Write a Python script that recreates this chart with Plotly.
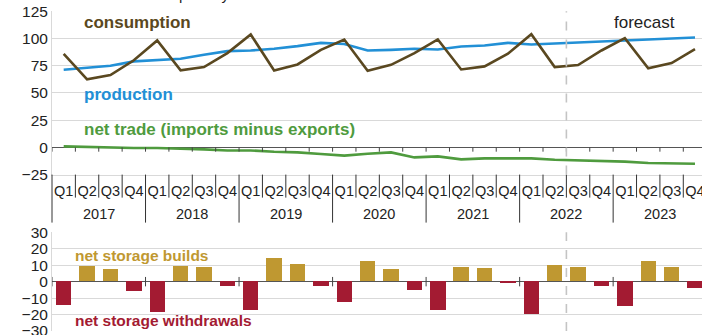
import plotly.graph_objects as go

# Quarterly U.S. natural gas balance, billion cubic feet per day
years = ["2017", "2018", "2019", "2020", "2021", "2022", "2023"]
quarters = ["Q1", "Q2", "Q3", "Q4"]

consumption = [86.0, 62.5, 66.4, 80.0, 98.2, 70.7, 73.8, 86.6, 103.7, 70.7, 76.2, 89.6,
               99.1, 70.4, 75.8, 86.6, 99.1, 71.6, 74.4, 86.0, 103.9, 73.8, 75.6, 89.0,
               100.3, 72.6, 77.4, 90.2]
production = [71.3, 73.2, 75.0, 79.0, 79.9, 81.4, 85.1, 88.4, 89.0, 90.6, 93.0, 96.0,
              95.0, 89.0, 89.6, 90.6, 89.9, 92.7, 93.6, 96.0, 94.5, 95.4, 96.3, 97.3,
              98.2, 99.1, 100.0, 100.9]
net_trade = [0.9, 0.3, 0.0, -0.6, -0.6, -0.9, -1.8, -2.8, -2.8, -4.0, -4.6, -6.1,
             -7.6, -5.8, -4.6, -9.2, -8.3, -11.0, -10.1, -10.1, -10.1, -11.3, -11.9, -12.2,
             -13.1, -14.4, -14.7, -15.0]
net_storage = [-14.1, 9.5, 7.5, -5.9, -18.6, 9.1, 8.5, -2.6, -17.2, 14.3, 10.7, -2.6,
               -12.7, 12.1, 7.7, -5.5, -17.2, 8.9, 7.9, -1.2, -20.0, 10.1, 8.7, -2.8,
               -14.9, 12.1, 8.7, -4.0]
forecast_start = ("2022", "Q3")

year_cat = [y for y in years for _ in quarters]
qtr_cat = [q for _ in years for q in quarters]
idx = list(range(len(year_cat)))
n_q = len(quarters)
fc_idx = [i for i in idx if (year_cat[i], qtr_cat[i]) == forecast_start][0]

C_CONS = "#5a4820"
C_PROD = "#2290d6"
C_TRADE = "#4f9b3e"
C_BUILD = "#bf9831"
C_WDRAW = "#a31b32"
GRID = "#d9d9d9"
FONT = "Liberation Sans, Arial, sans-serif"

W, H = 702, 335
ML = 52
XR = [-0.5, 27.3]
top_dom = [1 - 174.6 / H, 1 - 11.3 / H]
bot_dom = [1 - 331.0 / H, 1 - 232.3 / H]


def xfrac(v):
    return (v - XR[0]) / (XR[1] - XR[0])


fig = go.Figure()
for vals, col in [(net_trade, C_TRADE), (production, C_PROD), (consumption, C_CONS)]:
    fig.add_trace(go.Scatter(x=idx, y=vals, mode="lines", line=dict(color=col, width=2.6),
                             xaxis="x", yaxis="y", showlegend=False, hoverinfo="skip"))

fig.add_trace(go.Bar(x=idx, y=net_storage, xaxis="x2", yaxis="y2", width=0.66,
                     marker=dict(color=[C_BUILD if v >= 0 else C_WDRAW for v in net_storage],
                                 line=dict(width=0)),
                     showlegend=False, hoverinfo="skip"))

shapes = []
px_top = (top_dom[1] - top_dom[0]) * H / 150.0  # px per unit, top panel
# ticks hanging below the zero line at each quarter boundary
for b in idx:
    shapes.append(dict(type="line", xref="x", yref="y", x0=b - 0.5, x1=b - 0.5,
                       y0=0, y1=-4.3 / px_top, line=dict(color="#444", width=1)))
# category separators in the label band (long ones between years)
ax_y = top_dom[0]
for b in range(len(idx) + 1):
    xb = xfrac(b - 0.5)
    if xb > 1:
        continue
    depth = 48 if b % n_q == 0 else 23
    shapes.append(dict(type="line", xref="paper", yref="paper", x0=xb, x1=xb,
                       y0=ax_y, y1=ax_y - depth / H, line=dict(color="#333", width=1)))
# year-boundary ticks crossing the zero line in the storage panel
px_bot = (bot_dom[1] - bot_dom[0]) * H / 60.0
for b in range(0, len(idx), n_q):
    shapes.append(dict(type="line", xref="x2", yref="y2", x0=b - 0.5, x1=b - 0.5,
                       y0=-4.7 / px_bot, y1=4.7 / px_bot, line=dict(color="#444", width=1)))
# forecast divider
shapes.append(dict(type="line", xref="x", yref="y domain", x0=fc_idx - 0.5,
                   x1=fc_idx - 0.5, y0=0, y1=1,
                   line=dict(color="#c4c4c4", width=1.6, dash="dash")))
shapes.append(dict(type="line", xref="x2", yref="y2 domain", x0=fc_idx - 0.5, x1=fc_idx - 0.5,
                   y0=0, y1=1, line=dict(color="#c4c4c4", width=1.6, dash="dash")))

ann = []
def label(text, x, y, color, size, xref, yref, bold=True, xanchor="left"):
    ann.append(dict(text=f"<b>{text}</b>" if bold else text, x=x, y=y, xref=xref, yref=yref,
                    xanchor=xanchor, yanchor="middle", showarrow=False,
                    font=dict(family=FONT, size=size, color=color)))

label("consumption", 0.78, 115.0, C_CONS, 17, "x", "y")
label("production", 0.78, 49.0, C_PROD, 17, "x", "y")
label("net trade (imports minus exports)", 0.78, 16.0, C_TRADE, 17, "x", "y")
label("forecast", 24.85, 114.5, "#222", 17, "x", "y", bold=False, xanchor="center")
label("net storage builds", 0.4, 15.8, C_BUILD, 15.5, "x2", "y2")
label("net storage withdrawals", 0.4, -23.7, C_WDRAW, 15.5, "x2", "y2")

# year labels centred under each group of quarters
for k, yr in enumerate(years):
    ann.append(dict(text=yr, x=k * n_q + (n_q - 1) / 2, y=ax_y - 39.6 / H, xref="x",
                    yref="paper", xanchor="center", yanchor="middle", showarrow=False,
                    font=dict(family=FONT, size=14.5, color="#222")))

ann.append(dict(text="billion cubic feet per day", x=15 / W, y=1 + 5.5 / H, xref="paper",
                yref="paper", xanchor="left", yanchor="middle", showarrow=False,
                font=dict(family=FONT, size=15, color="#222")))

fig.update_layout(
    width=W, height=H, margin=dict(l=ML, r=0, t=0, b=0, autoexpand=False),
    paper_bgcolor="white", plot_bgcolor="white",
    font=dict(family=FONT, size=15, color="#222"),
    shapes=shapes, annotations=ann, bargap=0,
    xaxis=dict(domain=[0, 1], range=XR, anchor="y", automargin=False,
               tickmode="array", tickvals=idx, ticktext=qtr_cat, ticklabeloverflow="allow",
               showline=True, linecolor=GRID, linewidth=1, showgrid=False, zeroline=False,
               ticks="outside", ticklen=3, tickcolor="rgba(0,0,0,0)",
               tickfont=dict(size=14.5, color="#222")),
    yaxis=dict(domain=top_dom, range=[-25, 125], dtick=25, tick0=0, anchor="x",
               automargin=False, ticklabeloverflow="allow",
               showline=True, linecolor=GRID, gridcolor=GRID, gridwidth=1,
               zeroline=True, zerolinecolor="#555", zerolinewidth=1.2, ticks="",
               tickfont=dict(size=15.5, color="#222")),
    xaxis2=dict(domain=[0, 1], range=XR, anchor="y2", showticklabels=False, showgrid=False,
                automargin=False, zeroline=False, showline=False, ticks=""),
    yaxis2=dict(domain=bot_dom, range=[-30, 30], dtick=10, tick0=0, anchor="x2",
                automargin=False, ticklabeloverflow="allow",
                showline=True, linecolor=GRID, gridcolor=GRID, gridwidth=1,
                zeroline=True, zerolinecolor="#555", zerolinewidth=1.2, ticks="",
                tickfont=dict(size=15.5, color="#222")),
)

fig.write_html("out.html")
